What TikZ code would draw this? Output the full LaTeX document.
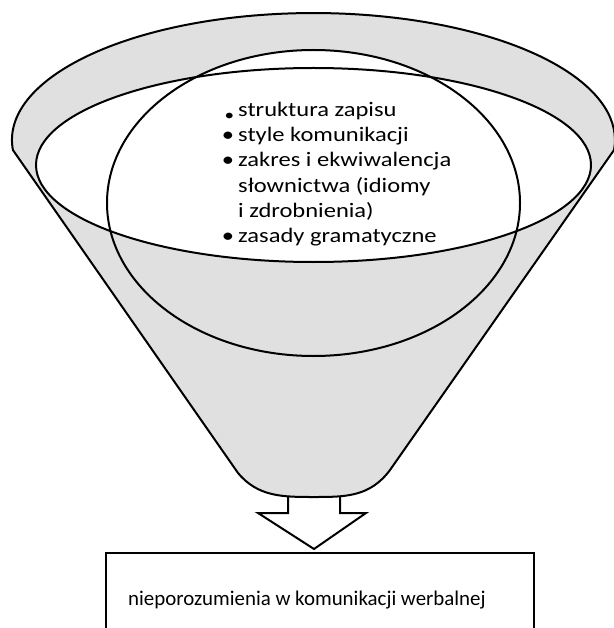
\documentclass[tikz,border=0pt]{standalone}
\usepackage{fontspec}
\setmainfont{Carlito}
\definecolor{funnelgrey}{HTML}{E0E0E0}
% list text inside the funnel is set slightly widened
\newcommand{\widetext}[1]{\scalebox{1.19}[1]{#1}}
\newcommand{\itembullet}{\llap{\textbullet\kern3.4pt}}
\begin{document}
\begin{tikzpicture}[x=1pt,y=-1pt,
  outline/.style={draw=black,line width=2pt},
  listline/.style={anchor=base west,inner sep=0pt,font=\fontsize{20.6}{25.2}\selectfont},
  resultline/.style={anchor=base west,inner sep=0pt,font=\fontsize{20.9}{25.5}\selectfont},
]
\useasboundingbox (0,0) rectangle (613,628);

% down arrow under the funnel spout
\draw[outline,fill=white,line join=miter]
  (288,480) -- (288,513) -- (258,513) -- (314,549) -- (366,513) -- (340,513) -- (340,480) -- cycle;

% funnel body: upper rim of the outer ellipse, straight sides, rounded spout
\draw[outline,fill=funnelgrey,line join=round]
  (12.9,150) arc[start angle=175.5,end angle=364.5,x radius=301.5,y radius=127]
  -- (390,470) .. controls (370,497) and (345,497) .. (314,497)
  .. controls (283,497) and (258,497) .. (238,473) -- cycle;

% white cap of the inner circle where it rises above the rim opening
\begin{scope}
  \clip (0,0) rectangle (613,165);
  \fill[white] (313.5,203) ellipse[x radius=206.5,y radius=153];
\end{scope}

% opening of the funnel
\draw[outline,fill=white] (313.5,165) ellipse[x radius=277.5,y radius=97];

% inner circle holding the list
\draw[outline] (313.5,203) ellipse[x radius=206.5,y radius=153];

% list of factors
\node[listline] (f1) at (238,116.5) {\widetext{\llap{\raisebox{-4.5pt}{\fontsize{16}{16}\selectfont\textbullet}\kern3.4pt}struktura zapisu}};
\node[listline] (f2) at (238,141.7) {\widetext{\itembullet style komunikacji}};
\node[listline] (f3) at (238,166.9) {\widetext{\itembullet zakres i ekwiwalencja}};
\node[listline] (f4) at (238,192.1) {\widetext{słownictwa (idiomy}};
\node[listline] (f5) at (238,217.3) {\widetext{i zdrobnienia)}};
\node[listline] (f6) at (238,242.5) {\widetext{\itembullet zasady gramatyczne}};

% result box
\node[outline,fill=white,anchor=north west,minimum width=428,minimum height=120,inner sep=0pt] (resultbox) at (105,552) {};
\node[resultline] (resulttext) at (128,605) {nieporozumienia w komunikacji werbalnej};
\end{tikzpicture}
\end{document}
